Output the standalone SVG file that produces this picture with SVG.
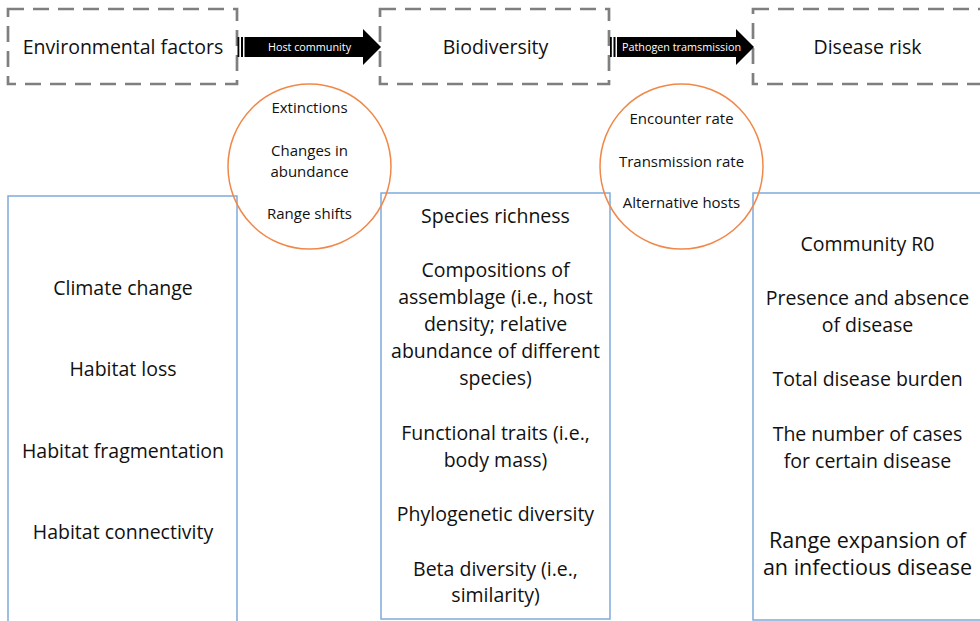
<svg xmlns="http://www.w3.org/2000/svg" width="980" height="621" viewBox="0 0 980 621">
<style>
text{font-family:"Open Sans","Noto Sans","Liberation Sans",sans-serif;fill:#111111;text-anchor:middle}
.h{font-size:19.5px}
.b{font-size:19.5px}
.big{font-size:21.5px}
.c{font-size:15px}
.a{font-size:10.8px;fill:#ffffff}
.dash{fill:none;stroke:#7f7f7f;stroke-width:2.7;stroke-dasharray:16 9}
.blue{fill:none;stroke:#7fabdc;stroke-width:1.5}
.ell{fill:none;stroke:#f0884a;stroke-width:1.5}
</style>
<rect width="980" height="621" fill="#ffffff"/>
<g id="env-header">
<rect class="dash" x="8" y="9" width="229" height="75"/>
<text class="h" x="123" y="54">Environmental factors</text>
</g>
<g id="bio-header">
<rect class="dash" x="380" y="9" width="229" height="75"/>
<text class="h" x="495.5" y="54">Biodiversity</text>
</g>
<g id="risk-header">
<rect class="dash" x="753" y="9" width="240" height="75"/>
<text class="h" x="867.5" y="54">Disease risk</text>
</g>
<g id="env-list">
<rect class="blue" x="8" y="196" width="229" height="440"/>
<text class="b" x="123" y="295">Climate change</text>
<text class="b" x="123" y="376">Habitat loss</text>
<text class="b" x="123" y="458">Habitat fragmentation</text>
<text class="b" x="123" y="539">Habitat connectivity</text>
</g>
<g id="bio-list">
<rect class="blue" x="381" y="193" width="229" height="426"/>
<text class="b" x="495.5" y="223">Species richness</text>
<text class="b" x="495.5" y="277">Compositions of</text>
<text class="b" x="495.5" y="304">assemblage (i.e., host</text>
<text class="b" x="495.5" y="331">density; relative</text>
<text class="b" x="495.5" y="358">abundance of different</text>
<text class="b" x="495.5" y="385">species)</text>
<text class="b" x="495.5" y="440">Functional traits (i.e.,</text>
<text class="b" x="495.5" y="467">body mass)</text>
<text class="b" x="495.5" y="521">Phylogenetic diversity</text>
<text class="b" x="495.5" y="576">Beta diversity (i.e.,</text>
<text class="b" x="495.5" y="602">similarity)</text>
</g>
<g id="risk-list">
<rect class="blue" x="753" y="193" width="240" height="427"/>
<text class="b" x="867.5" y="251">Community R0</text>
<text class="b" x="867.5" y="305">Presence and absence</text>
<text class="b" x="867.5" y="332">of disease</text>
<text class="b" x="867.5" y="386">Total disease burden</text>
<text class="b" x="867.5" y="441">The number of cases</text>
<text class="b" x="867.5" y="468">for certain disease</text>
<text class="big" x="867.5" y="548">Range expansion of</text>
<text class="big" x="867.5" y="575">an infectious disease</text>
</g>
<g id="mech-host">
<ellipse class="ell" cx="309.5" cy="166.5" rx="81.5" ry="82.5"/>
<text class="c" x="309.5" y="113">Extinctions</text>
<text class="c" x="309.5" y="156">Changes in</text>
<text class="c" x="309.5" y="177">abundance</text>
<text class="c" x="309.5" y="219">Range shifts</text>
</g>
<g id="mech-pathogen">
<ellipse class="ell" cx="681.5" cy="166.5" rx="81.5" ry="82.5"/>
<text class="c" x="681.5" y="124">Encounter rate</text>
<text class="c" x="681.5" y="167">Transmission rate</text>
<text class="c" x="681.5" y="208">Alternative hosts</text>
</g>
<g id="connectors">
<g id="arrow-host">
<rect x="237.5" y="37" width="1.8" height="20" fill="#000"/>
<rect x="241" y="37" width="2" height="20" fill="#000"/>
<polygon points="244.5,37 363,37 363,29 381,47 363,65 363,57 244.5,57" fill="#000"/>
<text class="a" x="309.5" y="51">Host community</text>
</g>
<g id="arrow-pathogen">
<rect x="610" y="37" width="1.8" height="20" fill="#000"/>
<rect x="613.5" y="37" width="2" height="20" fill="#000"/>
<polygon points="617,37 736,37 736,29 754,47 736,65 736,57 617,57" fill="#000"/>
<text class="a" x="681.5" y="51">Pathogen tramsmission</text>
</g>
</g>
</svg>
